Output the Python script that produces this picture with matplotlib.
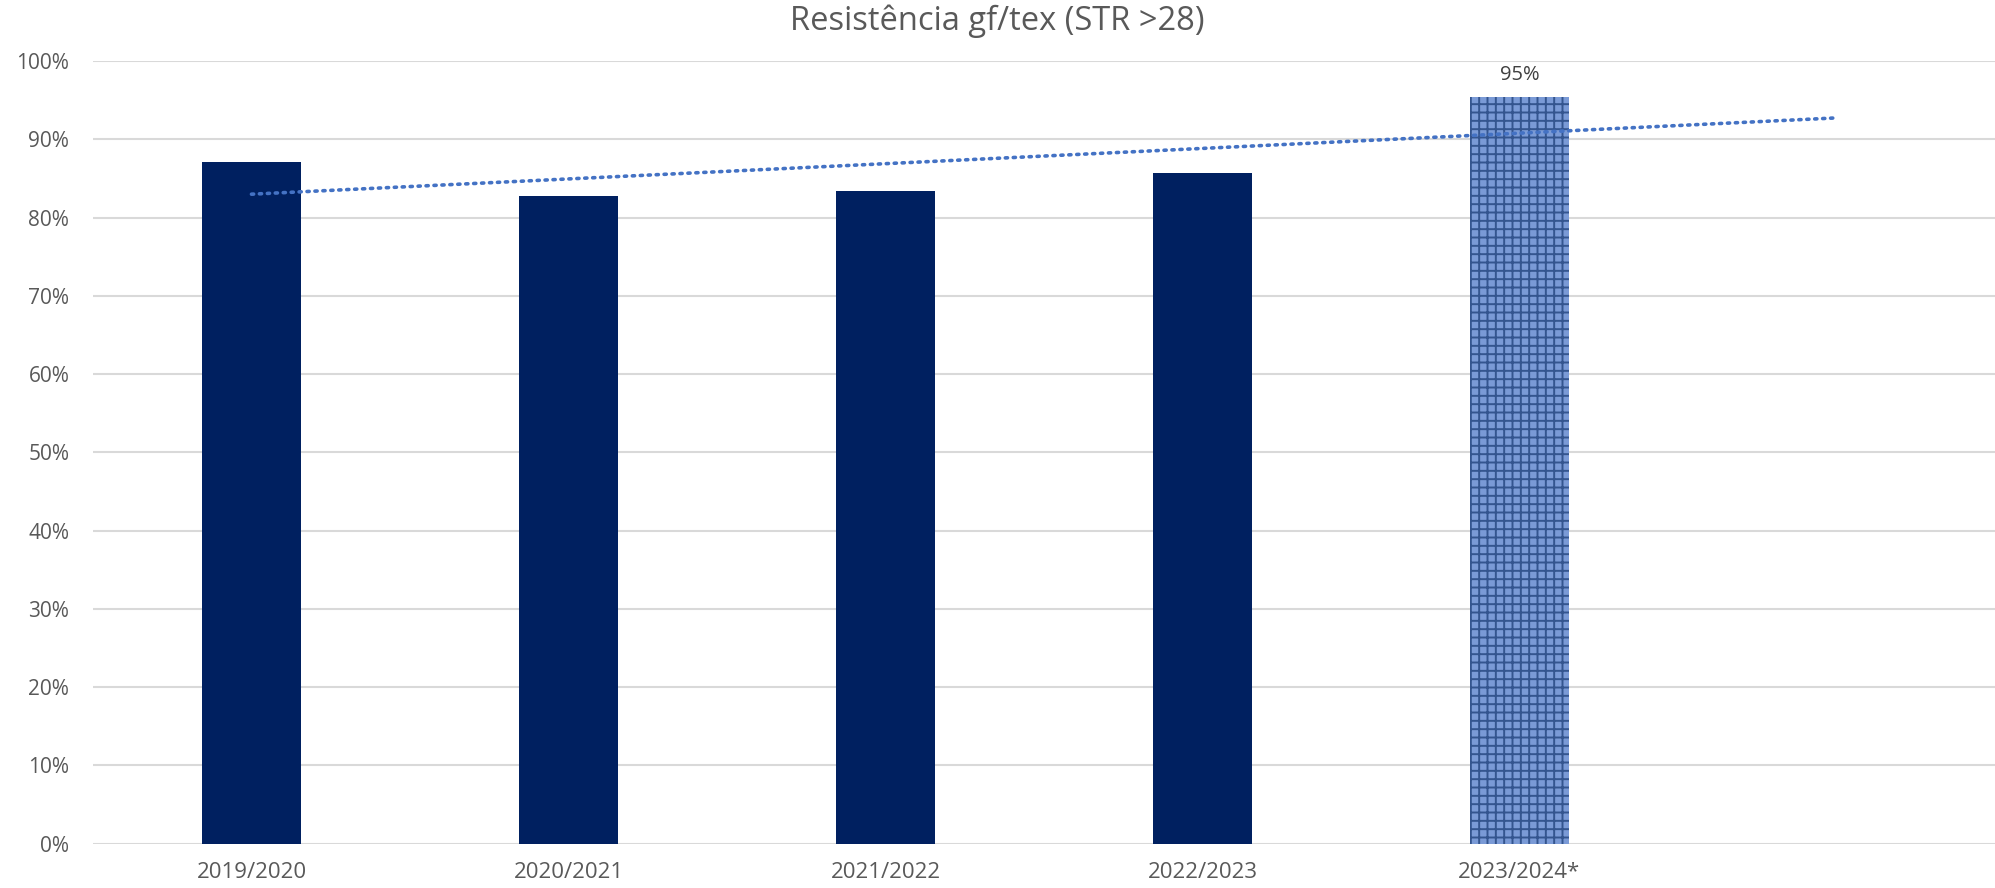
"""Resistência gf/tex (STR >28) - bar chart with linear trendline."""

import matplotlib
matplotlib.use("Agg")
import matplotlib.pyplot as plt
import numpy as np
from matplotlib.ticker import FuncFormatter

# data
seasons = ["2019/2020", "2020/2021", "2021/2022", "2022/2023", "2023/2024*", ""]
values = [87.1, 82.8, 83.4, 85.7, 95.4]
labelled = {4: "95%"}

NAVY = "#002060"
TEXTURE_FACE = "#7A9AD6"
TEXTURE_LINE = "#34558F"
TREND = "#4472C4"
GRID = "#D9D9D9"
TEXT = "#595959"

plt.rcParams["font.family"] = ["Open Sans", "DejaVu Sans"]
plt.rcParams["hatch.linewidth"] = 1.4

fig = plt.figure(figsize=(19.95, 8.88), dpi=100)
ax = fig.add_axes([0.0466, 0.0501, 0.9534, 0.8812])

x = np.arange(len(seasons))
n = len(values)
colors = [NAVY] * (n - 1) + [TEXTURE_FACE]
bars = ax.bar(x[:n], values, width=0.31, color=colors, zorder=2)
# last season (provisional) drawn with a woven texture
bars[-1].set_hatch("++")
bars[-1].set_edgecolor(TEXTURE_LINE)
bars[-1].set_linewidth(0)

for i, txt in labelled.items():
    ax.annotate(txt, xy=(x[i], values[i]), xytext=(0, 9), textcoords="offset points",
                ha="center", va="bottom", fontsize=14.5, color="#404040")

# linear trendline, forecast one period forward
coef = np.polyfit(x[:n], values, 1)
xt = np.array([0, n])
ax.plot(xt, np.polyval(coef, xt), color=TREND, linestyle=(0, (0.6, 1.6)),
        linewidth=2.6, dash_capstyle="round", zorder=3)

ax.set_xlim(-0.5, len(seasons) - 0.5)
ax.set_ylim(0, 100)
ax.set_yticks(np.arange(0, 101, 10))
ax.yaxis.set_major_formatter(FuncFormatter(lambda v, _: f"{v:.0f}%"))
ax.set_xticks(x)
ax.set_xticklabels(seasons)
ax.tick_params(length=0, colors=TEXT)
ax.tick_params(axis="x", labelsize=16, pad=13)
ax.tick_params(axis="y", labelsize=15, pad=17)
ax.grid(axis="y", color=GRID, linewidth=1.5, zorder=0)
ax.set_axisbelow(True)
for s in ax.spines.values():
    s.set_visible(False)

fig.suptitle("Resistência gf/tex (STR >28)", y=0.995, fontsize=23.5, color=TEXT)

fig.savefig("out.png", dpi=100)
